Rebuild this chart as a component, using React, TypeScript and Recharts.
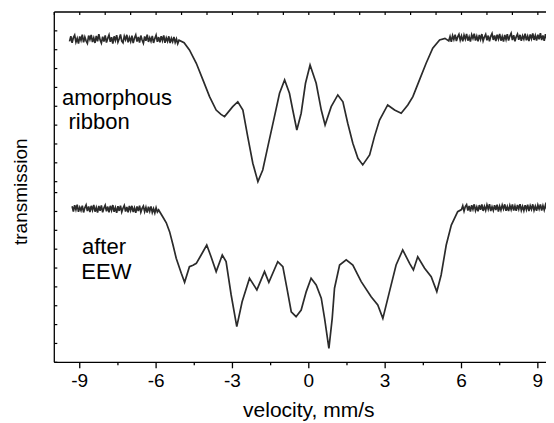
import React from 'react';
import { LineChart, Line, XAxis, YAxis, Label } from 'recharts';

// velocity (mm/s), transmission (arb. units, one unit = one y tick)
const ribbonPoints: [number, number][] = [
  [-9.4, 17.02], [-9.35, 17.3], [-9.3, 16.95], [-9.25, 17.22], [-9.2, 17.35], [-9.15, 16.98], [-9.1, 17.18],
  [-9.05, 16.9], [-9.0, 17.28], [-8.95, 17.08], [-8.9, 17.38], [-8.85, 16.97], [-8.8, 17.25], [-8.75, 17.05],
  [-8.7, 16.92], [-8.65, 17.33], [-8.6, 17.12], [-8.55, 17.36], [-8.5, 16.99], [-8.45, 17.21], [-8.4, 16.94],
  [-8.35, 17.31], [-8.3, 17.03], [-8.25, 17.4], [-8.2, 17.1], [-8.15, 16.93], [-8.1, 17.27], [-8.05, 17.01],
  [-8.0, 17.34], [-7.95, 16.96], [-7.9, 17.19], [-7.85, 17.37], [-7.8, 17.0], [-7.75, 17.24], [-7.7, 16.91],
  [-7.65, 17.29], [-7.6, 17.07], [-7.55, 17.35], [-7.5, 16.98], [-7.45, 17.16], [-7.4, 17.39], [-7.35, 17.04],
  [-7.3, 16.95], [-7.25, 17.3], [-7.2, 17.11], [-7.15, 17.37], [-7.1, 16.97], [-7.05, 17.23], [-7.0, 17.02],
  [-6.95, 17.32], [-6.9, 16.93], [-6.85, 17.2], [-6.8, 17.36], [-6.75, 17.01], [-6.7, 17.26], [-6.65, 16.96],
  [-6.6, 17.33], [-6.55, 17.09], [-6.5, 16.92], [-6.45, 17.28], [-6.4, 17.05], [-6.35, 17.38], [-6.3, 16.99],
  [-6.25, 17.22], [-6.2, 17.03], [-6.15, 17.31], [-6.1, 16.94], [-6.05, 17.17], [-6.0, 17.35], [-5.95, 17.0],
  [-5.9, 17.25], [-5.85, 16.97], [-5.8, 17.3], [-5.75, 17.06], [-5.7, 17.34], [-5.65, 16.95], [-5.6, 17.21],
  [-5.55, 17.02], [-5.5, 17.29], [-5.45, 16.93], [-5.4, 17.18], [-5.35, 17.0], [-5.3, 17.26], [-5.25, 16.96],
  [-5.2, 17.15], [-5.15, 16.9], [-5.1, 17.08], [-4.9, 16.95], [-4.69, 16.57], [-4.42, 15.86], [-4.16, 14.98],
  [-3.9, 14.09], [-3.64, 13.38], [-3.45, 13.15], [-3.31, 13.03], [-2.99, 13.56], [-2.79, 13.82], [-2.59, 13.38],
  [-2.4, 11.97], [-2.2, 10.56], [-2.0, 9.58], [-1.81, 10.2], [-1.61, 11.44], [-1.35, 13.03], [-1.15, 14.27],
  [-0.95, 14.98], [-0.76, 14.27], [-0.63, 13.38], [-0.47, 12.32], [-0.3, 13.21], [-0.13, 14.8], [0.05, 15.77],
  [0.29, 14.8], [0.49, 13.38], [0.64, 12.59], [0.88, 13.56], [1.14, 14.18], [1.34, 13.82], [1.53, 12.68],
  [1.73, 11.62], [1.93, 10.82], [2.12, 10.47], [2.39, 11.0], [2.58, 11.97], [2.78, 12.85], [3.1, 13.65],
  [3.37, 13.38], [3.63, 13.21], [3.89, 13.65], [4.09, 14.09], [4.35, 14.98], [4.61, 15.86], [4.87, 16.66],
  [5.14, 17.1], [5.35, 17.18], [5.5, 17.05], [5.55, 17.28], [5.6, 17.0], [5.65, 17.33], [5.7, 17.12],
  [5.75, 17.38], [5.8, 17.04], [5.85, 17.26], [5.9, 17.4], [5.95, 17.09], [6.0, 17.31], [6.05, 17.02],
  [6.1, 17.35], [6.15, 17.14], [6.2, 17.42], [6.25, 17.06], [6.3, 17.27], [6.35, 17.01], [6.4, 17.37],
  [6.45, 17.18], [6.5, 17.43], [6.55, 17.07], [6.6, 17.3], [6.65, 17.03], [6.7, 17.36], [6.75, 17.13],
  [6.8, 17.41], [6.85, 17.05], [6.9, 17.25], [6.95, 17.39], [7.0, 17.08], [7.05, 17.33], [7.1, 17.02],
  [7.15, 17.29], [7.2, 17.44], [7.25, 17.1], [7.3, 17.34], [7.35, 17.04], [7.4, 17.38], [7.45, 17.15],
  [7.5, 17.42], [7.55, 17.06], [7.6, 17.28], [7.65, 17.01], [7.7, 17.36], [7.75, 17.12], [7.8, 17.4],
  [7.85, 17.07], [7.9, 17.31], [7.95, 17.45], [8.0, 17.09], [8.05, 17.35], [8.1, 17.03], [8.15, 17.27],
  [8.2, 17.41], [8.25, 17.11], [8.3, 17.37], [8.35, 17.05], [8.4, 17.32], [8.45, 17.14], [8.5, 17.43],
  [8.55, 17.08], [8.6, 17.3], [8.65, 17.04], [8.7, 17.39], [8.75, 17.16], [8.8, 17.44], [8.85, 17.1],
  [8.9, 17.33], [8.95, 17.06], [9.0, 17.38], [9.05, 17.13], [9.1, 17.46], [9.15, 17.09], [9.2, 17.34],
  [9.25, 17.05], [9.3, 17.4], [9.35, 17.17], [9.4, 17.45], [9.45, 17.11], [9.5, 17.36], [9.55, 17.15],
  [9.6, 17.42],
];

const eewPoints: [number, number][] = [
  [-9.3, 8.28], [-9.25, 8.0], [-9.2, 8.33], [-9.15, 8.09], [-9.1, 8.36], [-9.05, 7.98], [-9.0, 8.22],
  [-8.95, 8.05], [-8.9, 8.31], [-8.85, 7.95], [-8.8, 8.19], [-8.75, 8.34], [-8.7, 8.02], [-8.65, 8.27],
  [-8.6, 7.97], [-8.55, 8.3], [-8.5, 8.07], [-8.45, 8.35], [-8.4, 7.99], [-8.35, 8.21], [-8.3, 7.94],
  [-8.25, 8.29], [-8.2, 8.04], [-8.15, 8.32], [-8.1, 7.96], [-8.05, 8.18], [-8.0, 8.33], [-7.95, 8.01],
  [-7.9, 8.26], [-7.85, 7.96], [-7.8, 8.3], [-7.75, 8.06], [-7.7, 8.34], [-7.65, 7.98], [-7.6, 8.2],
  [-7.55, 7.93], [-7.5, 8.28], [-7.45, 8.03], [-7.4, 8.31], [-7.35, 7.97], [-7.3, 8.17], [-7.25, 8.32],
  [-7.2, 8.0], [-7.15, 8.24], [-7.1, 7.95], [-7.05, 8.29], [-7.0, 8.05], [-6.95, 8.3], [-6.9, 7.97],
  [-6.85, 8.19], [-6.8, 7.93], [-6.75, 8.27], [-6.7, 8.02], [-6.65, 8.31], [-6.6, 7.96], [-6.55, 8.16],
  [-6.5, 8.28], [-6.45, 7.99], [-6.4, 8.22], [-6.35, 7.94], [-6.3, 8.25], [-6.25, 8.01], [-6.2, 8.27],
  [-6.15, 7.95], [-6.1, 8.15], [-6.05, 7.92], [-6.0, 8.2], [-5.95, 7.97], [-5.9, 8.08], [-5.74, 7.72],
  [-5.6, 7.4], [-5.47, 6.93], [-5.34, 6.25], [-5.21, 5.52], [-5.01, 4.72], [-4.88, 4.24], [-4.69, 5.07],
  [-4.55, 5.15], [-4.42, 5.25], [-4.23, 5.69], [-4.01, 6.22], [-3.84, 5.6], [-3.64, 4.81], [-3.4, 5.69],
  [-3.25, 5.34], [-3.05, 3.57], [-2.83, 1.89], [-2.62, 3.21], [-2.33, 4.46], [-2.04, 3.84], [-1.74, 4.81],
  [-1.57, 4.24], [-1.22, 5.34], [-1.02, 5.07], [-0.86, 3.93], [-0.69, 2.68], [-0.5, 2.42], [-0.3, 2.77],
  [-0.1, 3.75], [0.09, 4.46], [0.29, 4.1], [0.49, 3.4], [0.62, 2.33], [0.79, 0.74], [0.92, 2.33], [1.01, 3.93],
  [1.21, 5.16], [1.47, 5.43], [1.73, 5.16], [2.06, 4.28], [2.45, 3.48], [2.71, 3.04], [2.91, 2.33], [3.17, 3.75],
  [3.43, 5.16], [3.69, 5.96], [3.96, 5.25], [4.11, 4.9], [4.28, 5.6], [4.55, 4.99], [4.81, 4.54], [5.03, 3.75],
  [5.2, 4.63], [5.4, 6.22], [5.6, 7.28], [5.85, 7.99], [6.0, 8.1], [6.05, 8.3], [6.1, 8.02], [6.15, 8.26],
  [6.2, 8.36], [6.25, 8.05], [6.3, 8.29], [6.35, 8.0], [6.4, 8.33], [6.45, 8.11], [6.5, 8.38], [6.55, 8.04],
  [6.6, 8.24], [6.65, 8.01], [6.7, 8.34], [6.75, 8.09], [6.8, 8.37], [6.85, 8.03], [6.9, 8.27], [6.95, 8.06],
  [7.0, 8.35], [7.05, 8.12], [7.1, 8.39], [7.15, 8.02], [7.2, 8.25], [7.25, 8.05], [7.3, 8.33], [7.35, 8.08],
  [7.4, 8.36], [7.45, 8.0], [7.5, 8.28], [7.55, 8.07], [7.6, 8.34], [7.65, 8.13], [7.7, 8.38], [7.75, 8.04],
  [7.8, 8.26], [7.85, 8.02], [7.9, 8.32], [7.95, 8.1], [8.0, 8.37], [8.05, 8.05], [8.1, 8.29], [8.15, 8.03],
  [8.2, 8.35], [8.25, 8.12], [8.3, 8.39], [8.35, 8.06], [8.4, 8.27], [8.45, 8.04], [8.5, 8.33], [8.55, 8.09],
  [8.6, 8.36], [8.65, 8.02], [8.7, 8.3], [8.75, 8.11], [8.8, 8.38], [8.85, 8.06], [8.9, 8.28], [8.95, 8.04],
  [9.0, 8.34], [9.05, 8.13], [9.1, 8.37], [9.15, 8.05], [9.2, 8.31], [9.25, 8.08], [9.3, 8.35], [9.35, 8.12],
  [9.4, 8.39], [9.45, 8.07], [9.5, 8.32], [9.55, 8.1], [9.6, 8.36],
];

const xDomain: [number, number] = [-10, 10];
const yDomain: [number, number] = [0, 18.58];
const bottomTicks = [-9, -7.5, -6, -4.5, -3, -1.5, 0, 1.5, 3, 4.5, 6, 7.5, 9];
const topTicks = [-10, -9, -8, -7, -6, -5, -4, -3, -2, -1, 0, 1, 2, 3, 4, 5, 6, 7, 8, 9, 10];
const yTicks = [0, 1, 2, 3, 4, 5, 6, 7, 8, 9, 9.58, 10.58, 11.58, 12.58, 13.58, 14.58, 15.58, 16.58, 17.58];

const ribbonData = ribbonPoints.map(([v, t]) => ({ v, t }));
const eewData = eewPoints.map(([v, t]) => ({ v, t }));

const BottomTick = (props: any) => {
  const { x, y, payload } = props;
  const v = payload.value;
  const major = Math.abs(v % 3) < 1e-6;
  return (
    <g>
      <line x1={x} x2={x} y1={y} y2={y + (major ? 6 : 3)} stroke="#000" strokeWidth={1.3} />
      {major && (
        <text x={x} y={y + 25} textAnchor="middle" fontSize={19} fill="#000">
          {String(v)}
        </text>
      )}
    </g>
  );
};

const TopTick = (props: any) => {
  const { x, y } = props;
  return <line x1={x} x2={x} y1={y} y2={y + 3} stroke="#000" strokeWidth={1.2} />;
};

const LeftTick = (props: any) => {
  const { x, y } = props;
  return <line x1={x} x2={x + 3} y1={y} y2={y} stroke="#000" strokeWidth={1.2} />;
};

const font = '"Liberation Sans", Arial, Helvetica, sans-serif';

const annoStyle: React.CSSProperties = {
  position: 'absolute',
  fontSize: 22,
  lineHeight: '22px',
  color: '#000',
  whiteSpace: 'nowrap',
};

export default function App() {
  return (
    <div style={{ width: 546, height: 415, overflow: 'hidden', position: 'relative', fontFamily: font }}>
      <LineChart width={560} height={415} margin={{ top: 2, right: 4.7, bottom: 5.7, left: 36.3 }}>
        <XAxis
          xAxisId="b"
          type="number"
          dataKey="v"
          domain={xDomain}
          allowDataOverflow
          ticks={bottomTicks}
          interval={0}
          tickSize={0}
          tickMargin={0}
          tickLine={false}
          tick={<BottomTick />}
          height={55}
          axisLine={{ stroke: '#000', strokeWidth: 1.3 }}
        >
          <Label value="velocity, mm/s" position="insideBottom" offset={0} fontSize={21} fill="#000" />
        </XAxis>
        <XAxis
          xAxisId="t"
          orientation="top"
          type="number"
          dataKey="v"
          domain={xDomain}
          allowDataOverflow
          ticks={topTicks}
          interval={0}
          tickSize={0}
          tickMargin={0}
          tickLine={false}
          tick={<TopTick />}
          height={2}
          axisLine={{ stroke: '#000', strokeWidth: 1.3 }}
        />
        <YAxis
          type="number"
          domain={yDomain}
          allowDataOverflow
          ticks={yTicks}
          interval={0}
          tickSize={0}
          tickMargin={0}
          tickLine={false}
          tick={<LeftTick />}
          width={10}
          axisLine={{ stroke: '#000', strokeWidth: 1.3 }}
        >
          <Label
            content={() => (
              <text transform="translate(18.7,183.7) rotate(-90)" textAnchor="middle" fontSize={19} fill="#000">
                transmission
              </text>
            )}
          />
        </YAxis>
        <Line
          xAxisId="b"
          data={ribbonData}
          dataKey="t"
          type="linear"
          dot={false}
          stroke="#2b2b2b"
          strokeWidth={1.7}
          isAnimationActive={false}
        />
        <Line
          xAxisId="b"
          data={eewData}
          dataKey="t"
          type="linear"
          dot={false}
          stroke="#2b2b2b"
          strokeWidth={1.7}
          isAnimationActive={false}
        />
      </LineChart>
      <div style={{ ...annoStyle, left: 54, top: 79.4 }}>amorphous</div>
      <div style={{ ...annoStyle, left: 60.5, top: 102.7 }}>ribbon</div>
      <div style={{ ...annoStyle, left: 74, top: 228.4 }}>after</div>
      <div style={{ ...annoStyle, left: 73.3, top: 253.4 }}>EEW</div>
    </div>
  );
}
